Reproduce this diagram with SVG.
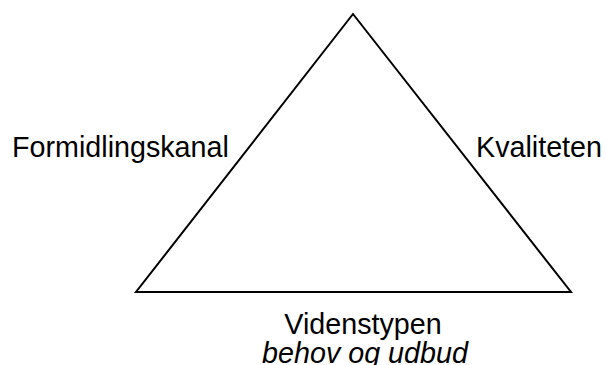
<svg xmlns="http://www.w3.org/2000/svg" width="606" height="365" viewBox="0 0 606 365">
<style>
.lbl{font-family:"Liberation Sans",Arial,sans-serif;font-size:28.7px;fill:#000}
.it{font-style:italic}
</style>
<rect width="606" height="365" fill="#fff"/>
<g id="connectors">
<polygon points="353,14 136,292 571,292" fill="none" stroke="#000" stroke-width="2" stroke-linejoin="miter"/>
</g>
<g id="label-left"><text class="lbl" x="12" y="157">Formidlingskanal</text></g>
<g id="label-right"><text class="lbl" x="476" y="157">Kvaliteten</text></g>
<g id="label-bottom">
<text class="lbl" x="363" y="334" text-anchor="middle">Videnstypen</text>
<text class="lbl it" x="365" y="363" text-anchor="middle">behov og udbud</text>
</g>
</svg>
